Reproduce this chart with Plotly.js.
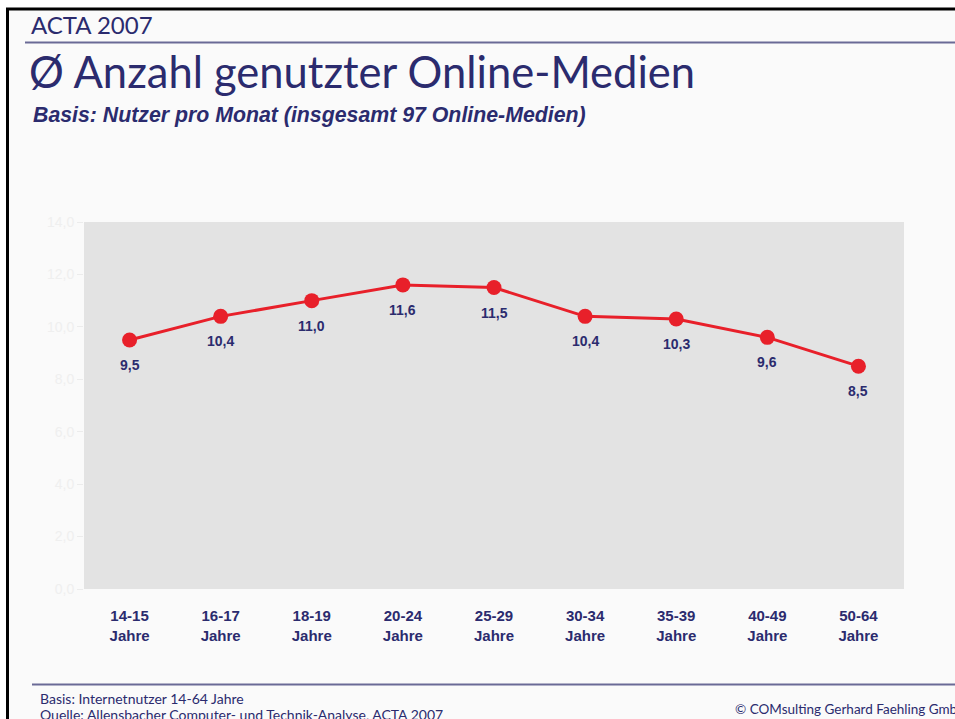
<!DOCTYPE html>
<html>
<head>
<meta charset="utf-8">
<script src="https://cdn.plot.ly/plotly-3.0.1.min.js"></script>
<style>
html,body{margin:0;padding:0;background:#ffffff;}
#chart{width:955px;height:719px;}
</style>
</head>
<body>
<div id="chart"></div>
<script>
const categories = ["14-15<br>Jahre","16-17<br>Jahre","18-19<br>Jahre","20-24<br>Jahre","25-29<br>Jahre","30-34<br>Jahre","35-39<br>Jahre","40-49<br>Jahre","50-64<br>Jahre"];
const values = [9.5, 10.4, 11.0, 11.6, 11.5, 10.4, 10.3, 9.6, 8.5];
const valueLabels = ["9,5","10,4","11,0","11,6","11,5","10,4","10,3","9,6","8,5"];
const yTicks = [0, 2, 4, 6, 8, 10, 12, 14];

const navy = "#2b2b6e";
const headFont = "Lato, 'Noto Sans', sans-serif";
const arial = "'Liberation Sans', Arial, sans-serif";

const trace = {
  x: categories,
  y: values,
  type: "scatter",
  mode: "lines+markers",
  line: {color: "#e8202a", width: 3},
  marker: {color: "#e8202a", size: 15},
  hoverinfo: "skip"
};

const px = v => (v-84)/820;
const py = v => (589-v)/367;

const annotations = categories.map((c, i) => ({
  x: c, y: values[i], xref: "x", yref: "y",
  text: valueLabels[i], showarrow: false, yshift: -25,
  font: {family: arial, size: 14, color: navy, weight: "bold"}
}));

annotations.push(
  {text: "ACTA 2007", xref: "paper", yref: "paper", x: px(29), y: py(24), xanchor: "left", yanchor: "middle", showarrow: false,
   font: {family: headFont, size: 24, color: navy}},
  {text: "Ø Anzahl genutzter Online-Medien", xref: "paper", yref: "paper", x: px(27), y: py(71), xanchor: "left", yanchor: "middle", showarrow: false,
   font: {family: headFont, size: 43.5, color: navy}},
  {text: "<i><b>Basis: Nutzer pro Monat (insgesamt 97 Online-Medien)</b></i>", xref: "paper", yref: "paper", x: px(31), y: py(115), xanchor: "left", yanchor: "middle", showarrow: false,
   font: {family: arial, size: 21.3, color: navy}},
  {text: "Basis: Internetnutzer 14-64 Jahre", xref: "paper", yref: "paper", x: px(38), y: py(698), xanchor: "left", yanchor: "middle", showarrow: false,
   font: {family: headFont, size: 14, color: navy}},
  {text: "Quelle: Allensbacher Computer- und Technik-Analyse, ACTA 2007", xref: "paper", yref: "paper", x: px(38), y: py(714), xanchor: "left", yanchor: "middle", showarrow: false,
   font: {family: headFont, size: 14, color: navy}},
  {text: "© COMsulting Gerhard Faehling GmbH", xref: "paper", yref: "paper", x: px(733), y: py(709), xanchor: "left", yanchor: "middle", showarrow: false,
   font: {family: headFont, size: 13.5, color: navy}}
);

const shapes = [
  {type: "rect", xref: "paper", yref: "paper", x0: px(-5), x1: px(6), y0: py(730), y1: py(-5), fillcolor: "#ffffff", line: {width: 0}},
  {type: "rect", xref: "paper", yref: "paper", x0: px(-5), x1: px(960), y0: py(8), y1: py(-5), fillcolor: "#ffffff", line: {width: 0}},
  {type: "line", xref: "paper", yref: "paper", x0: px(6), x1: px(960), y0: py(9), y1: py(9), line: {color: "#000000", width: 3}},
  {type: "line", xref: "paper", yref: "paper", x0: px(7.5), x1: px(7.5), y0: py(8), y1: py(730), line: {color: "#000000", width: 3}},
  {type: "line", xref: "paper", yref: "paper", x0: px(25), x1: px(960), y0: py(42.5), y1: py(42.5), line: {color: "#6a6a96", width: 2}},
  {type: "line", xref: "paper", yref: "paper", x0: px(32), x1: px(960), y0: py(684.5), y1: py(684.5), line: {color: "#6a6a96", width: 2}}
];

const layout = {
  width: 955, height: 719,
  margin: {l: 84, r: 51, t: 222, b: 130, pad: 0},
  paper_bgcolor: "#fafafa",
  plot_bgcolor: "#e3e3e3",
  showlegend: false,
  xaxis: {
    type: "category",
    showgrid: false, zeroline: false, showline: false,
    ticks: "", ticklabelstandoff: 16,
    tickfont: {family: arial, size: 15, color: navy, weight: "bold"},
    range: [-0.5, 8.5], fixedrange: true
  },
  yaxis: {
    range: [0, 14], tickvals: yTicks, tickformat: ".1f",
    showgrid: false, zeroline: false, showline: false,
    ticks: "outside", ticklen: 6, tickcolor: "#ececec", tickwidth: 1,
    tickfont: {family: arial, size: 14, color: "#efefef"},
    fixedrange: true
  },
  separators: ",.",
  annotations: annotations,
  shapes: shapes
};

Plotly.newPlot("chart", [trace], layout, {displayModeBar: false, staticPlot: true});
</script>
</body>
</html>
